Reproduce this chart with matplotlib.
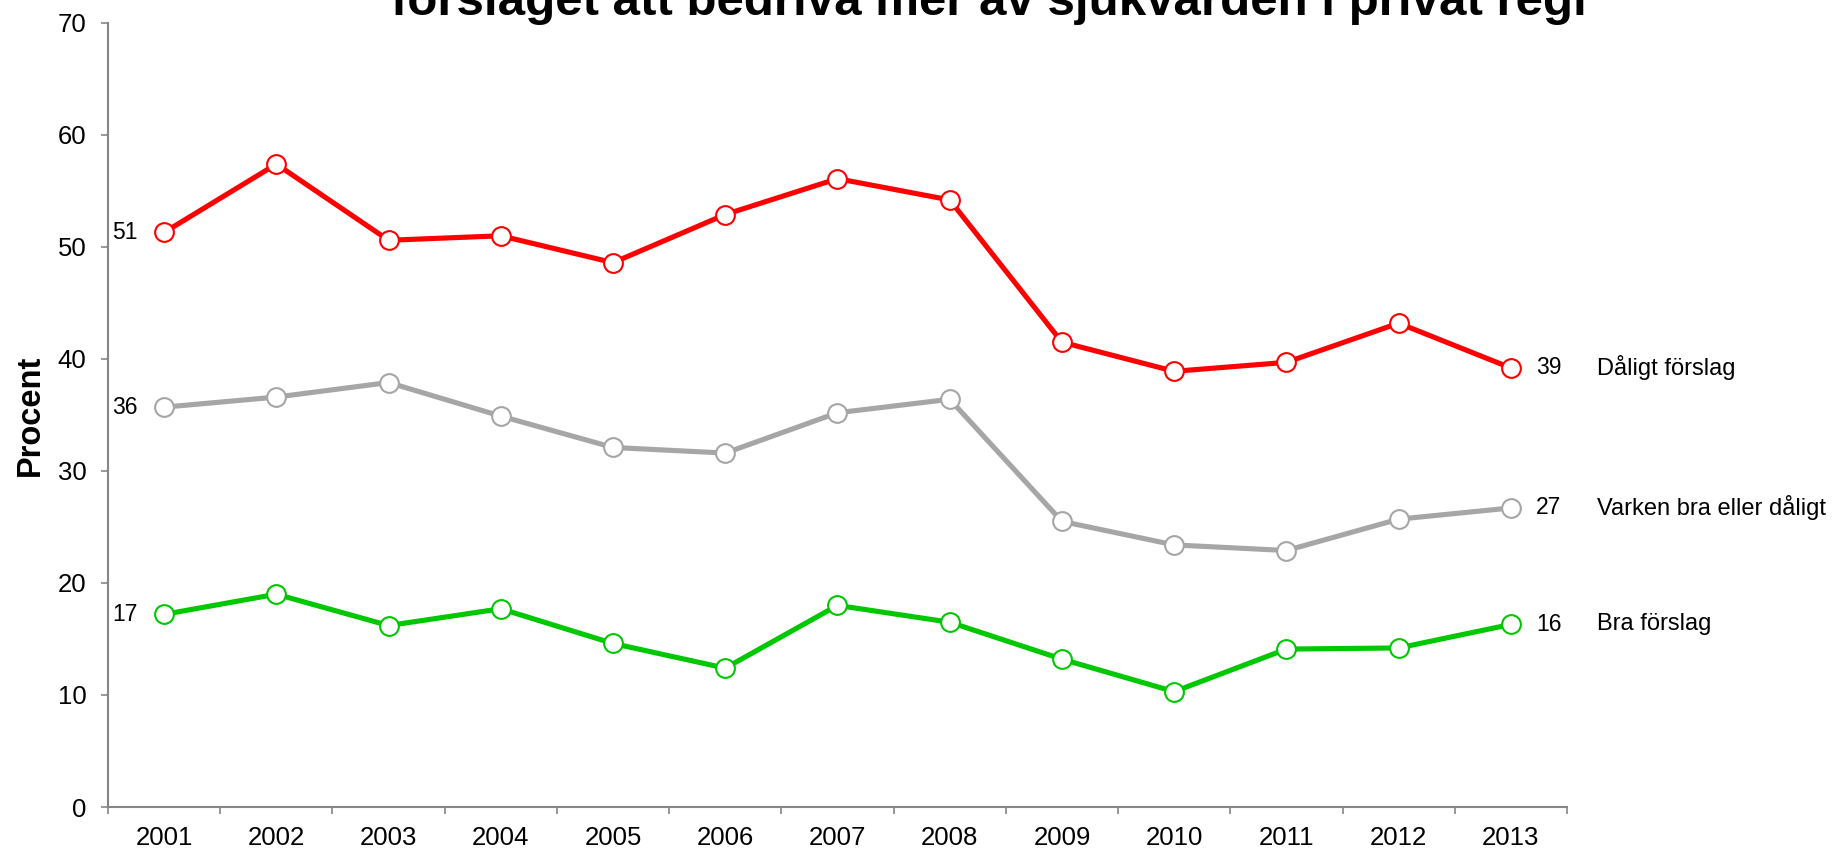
import matplotlib
matplotlib.use("Agg")
import matplotlib.pyplot as plt
import numpy as np

plt.rcParams['font.family'] = ['Liberation Sans', 'DejaVu Sans']

years = ['2001', '2002', '2003', '2004', '2005', '2006', '2007',
         '2008', '2009', '2010', '2011', '2012', '2013']
daligt = [51.3, 57.4, 50.6, 51.0, 48.6, 52.9, 56.1, 54.2, 41.5, 38.9, 39.7, 43.2, 39.2]
varken = [35.7, 36.6, 37.9, 34.9, 32.1, 31.6, 35.2, 36.4, 25.5, 23.4, 22.9, 25.7, 26.7]
bra = [17.2, 19.0, 16.2, 17.7, 14.6, 12.4, 18.0, 16.5, 13.2, 10.3, 14.1, 14.2, 16.3]
series_names = ['Dåligt förslag', 'Varken bra eller dåligt', 'Bra förslag']
line_colors = ['#FF0000', '#A6A6A6', '#00C800']
title = 'förslaget att bedriva mer av sjukvården i privat regi'

fig = plt.figure(figsize=(18.34, 8.51), dpi=100)
ax = fig.add_axes([0.0589, 0.0517, 0.7955, 0.9213])

x = np.arange(len(years)) + 0.5
for vals, name, col in zip([daligt, varken, bra], series_names, line_colors):
    ax.plot(x, vals, color=col, lw=3.7, marker='o', ms=13.5,
            mfc='white', mec=col, mew=1.5, zorder=3)
    # value labels at first and last year
    ax.annotate(f'{round(vals[0])}', (x[0], vals[0]), xytext=(-19, 0),
                textcoords='offset points', ha='right', va='center', fontsize=16.5)
    ax.annotate(f'{round(vals[-1])}', (x[-1], vals[-1]), xytext=(18, 0),
                textcoords='offset points', ha='left', va='center', fontsize=16.5)
    ax.annotate(name, (x[-1], vals[-1]), xytext=(62, 0),
                textcoords='offset points', ha='left', va='center', fontsize=17,
                annotation_clip=False)

ax.set_xlim(0, len(years))
ax.set_ylim(0, 70)
ax.set_yticks(range(0, 71, 10))
ax.set_xticks(range(len(years) + 1))
ax.set_xticklabels([])
ax.set_xticks(x, minor=True)
ax.set_xticklabels(years, minor=True)

axis_col = '#868686'
for s in ['top', 'right']:
    ax.spines[s].set_visible(False)
for s in ['left', 'bottom']:
    ax.spines[s].set_color(axis_col)
    ax.spines[s].set_linewidth(1.5)
ax.tick_params(axis='y', which='major', length=5, width=1.2, color=axis_col,
               labelsize=18.5, pad=10.5)
ax.tick_params(axis='x', which='major', length=5, width=1.2, color=axis_col)
ax.tick_params(axis='x', which='minor', length=0, labelsize=18.5, pad=14)

pos = ax.get_position()
fig.text(30 / 1834, pos.y0 + pos.height / 2, 'Procent', rotation=90,
         ha='center', va='center', fontsize=23.5, fontweight='bold')

fig.text(989 / 1834, 1 - 15 / 851, title, ha='center', va='baseline',
         fontsize=35.5, fontweight='bold')

fig.savefig('out.png', dpi=100)
